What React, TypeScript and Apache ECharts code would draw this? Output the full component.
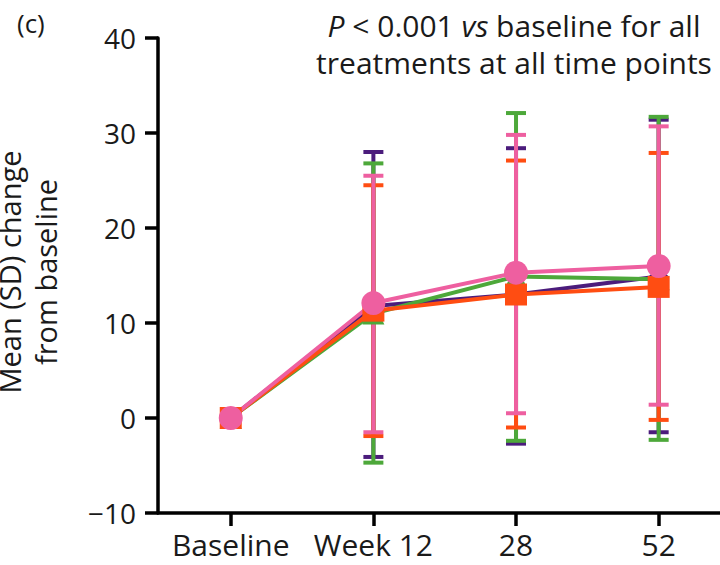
import React, { useEffect, useRef } from "react";
import * as echarts from "echarts";

const categories = ["Baseline", "Week 12", "28", "52"];
const yTicks = [-10, 0, 10, 20, 30, 40];

const purpleMean = [0, 11.8, 13.0, 14.9];
const purpleLow = [0, -4.1, -2.7, -1.5];
const purpleHigh = [0, 28.0, 28.4, 31.4];

const greenMean = [0, 11.0, 14.9, 14.6];
const greenLow = [0, -4.7, -2.4, -2.3];
const greenHigh = [0, 26.8, 32.1, 31.7];

const orangeMean = [0, 11.3, 13.0, 13.8];
const orangeLow = [0, -1.9, -1.0, -0.2];
const orangeHigh = [0, 24.5, 27.1, 27.9];

const pinkMean = [0, 12.1, 15.3, 16.0];
const pinkLow = [0, -1.5, 0.5, 1.4];
const pinkHigh = [0, 25.5, 29.8, 30.7];

const FONT = "'Open Sans', 'Noto Sans', sans-serif";

const groups = [
  { name: "A", color: "#4B1C7C", symbol: "diamond", size: 20, mean: purpleMean, low: purpleLow, high: purpleHigh },
  { name: "B", color: "#4DA83A", symbol: "triangle", size: 22, mean: greenMean, low: greenLow, high: greenHigh },
  { name: "C", color: "#FF4D12", symbol: "rect", size: 22, mean: orangeMean, low: orangeLow, high: orangeHigh },
  { name: "D", color: "#EE5FA0", symbol: "circle", size: 24, mean: pinkMean, low: pinkLow, high: pinkHigh },
];

const catIdx = categories.map((_, i) => i);

export default function App() {
  const ref = useRef<HTMLDivElement>(null);
  useEffect(() => {
    if (!ref.current) return;
    const chart = echarts.init(ref.current, null, { renderer: "svg" });
    const errSeries = groups.map((g) => ({
      type: "custom",
      name: g.name + "err",
      z: 1,
      data: catIdx.map((i) => [i, g.low[i], g.high[i]]),
      renderItem: (params: any, api: any) => {
        const x = api.value(0);
        const lo = api.value(1);
        const hi = api.value(2);
        if (lo === hi) return null;
        const pLo = api.coord([x, lo]);
        const pHi = api.coord([x, hi]);
        const hw = 10;
        const style = { stroke: g.color, lineWidth: 4, fill: "none" };
        return {
          type: "group",
          children: [
            { type: "line", shape: { x1: pLo[0], y1: pLo[1], x2: pHi[0], y2: pHi[1] }, style },
            { type: "line", shape: { x1: pLo[0] - hw, y1: pLo[1], x2: pLo[0] + hw, y2: pLo[1] }, style },
            { type: "line", shape: { x1: pHi[0] - hw, y1: pHi[1], x2: pHi[0] + hw, y2: pHi[1] }, style },
          ],
        };
      },
    }));
    const lineSeries = groups.map((g) => ({
      type: "line",
      name: g.name,
      z: 2,
      data: catIdx.map((i) => [i, g.mean[i]]),
      symbol: g.symbol,
      symbolSize: g.size,
      showSymbol: true,
      lineStyle: { color: g.color, width: 4 },
      itemStyle: { color: g.color },
    }));
    chart.setOption({
      animation: false,
      grid: { left: 158, top: 38, bottom: 52, right: 0, containLabel: false },
      xAxis: {
        type: "value",
        min: -0.51,
        max: 3.43,
        splitLine: { show: false },
        axisLine: { onZero: false, lineStyle: { color: "#000", width: 3.5 } },
        axisTick: { show: true, customValues: catIdx, length: 13, lineStyle: { color: "#000", width: 3.5 } },
        axisLabel: {
          color: "#1a1a1a",
          fontFamily: FONT,
          fontSize: 30,
          margin: 16,
          customValues: catIdx,
          hideOverlap: false,
          showMinLabel: true,
          showMaxLabel: true,
          formatter: (v: number) => categories[Math.round(v)] ?? "",
        },
      },
      yAxis: {
        type: "value",
        min: -10,
        max: 40,
        interval: 10,
        splitLine: { show: false },
        axisLine: { show: true, onZero: false, lineStyle: { color: "#000", width: 3.5 } },
        axisTick: { show: true, length: 13, lineStyle: { color: "#000", width: 3.5 } },
        axisLabel: {
          color: "#1a1a1a",
          fontFamily: FONT,
          fontSize: 28,
          margin: 22,
          formatter: (v: number) => (yTicks.includes(v) ? (v < 0 ? "\u2212" + Math.abs(v) : String(v)) : ""),
        },
      },
      graphic: [
        {
          type: "text",
          left: 17,
          top: 10,
          style: { text: "(c)", font: `26px ${FONT}`, fill: "#1a1a1a" },
        },
        {
          type: "text",
          x: 514,
          y: 7,
          style: {
            text: "{i|P} < 0.001 {i|vs} baseline for all\ntreatments at all time points",
            font: `30px ${FONT}`,
            fill: "#1a1a1a",
            align: "center",
            lineHeight: 37,
            rich: {
              i: { fontStyle: "italic", fontFamily: FONT, fontSize: 30, fill: "#1a1a1a" },
            },
          },
        },
        {
          type: "text",
          x: 27,
          y: 272,
          rotation: Math.PI / 2,
          style: {
            text: "Mean (SD) change\nfrom baseline",
            font: `29px ${FONT}`,
            fill: "#1a1a1a",
            align: "center",
            verticalAlign: "middle",
            lineHeight: 36,
          },
        },
      ],
      series: [...errSeries, ...lineSeries],
    });
    return () => chart.dispose();
  }, []);
  return <div ref={ref} style={{ width: 720, height: 565, position: "absolute", left: 0, top: 0 }} />;
}
